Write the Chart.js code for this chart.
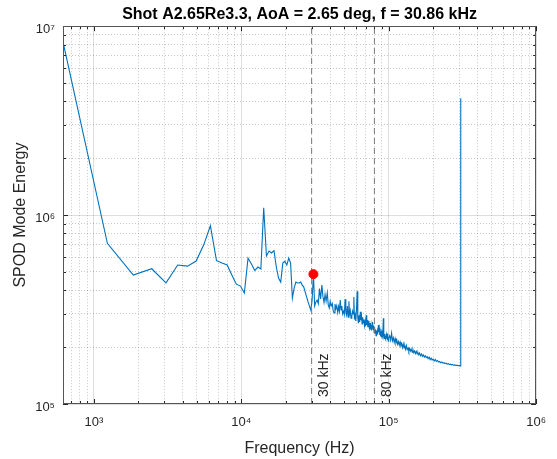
<!DOCTYPE html>
<html>
<head>
<meta charset="utf-8">
<script src="https://cdn.jsdelivr.net/npm/chart.js@4.4.0/dist/chart.umd.min.js"></script>
<style>
  html, body { margin: 0; padding: 0; background: #fff; }
  canvas { display: block; }
</style>
</head>
<body>
<canvas id="spod" width="557" height="459"></canvas>
<script>
// SPOD spectrum (Hz / energy)
const freqHz = [
  617, 1234, 1851, 2468, 3085, 3702, 4319, 4936, 5553, 6170,
  6787, 7404, 8021, 8638, 9255, 9872, 10489, 11106, 11723, 12340,
  12957, 13574, 14191, 14808, 15425, 16042, 16659, 17276, 17893, 18510,
  19127, 19744, 20361, 20978, 21595, 22212, 22829, 23446, 24063, 24680,
  25297, 25914, 26531, 27148, 27765, 28382, 28999, 29616, 30233, 30850,
  31467, 32084, 32701,
  33300, 33900, 34500, 35200, 35800, 36400, 37000, 37600, 38300, 38900,
  39500, 40100, 40700, 41400, 42000, 42600, 43200, 43800, 44400, 45100,
  45700, 46300, 46900, 47500, 48100, 48700, 49400, 50000, 50600, 51200,
  51800, 52500, 53100, 53700, 54300, 54900, 55500, 56200, 56800, 57400,
  58000, 58600, 59200, 59800, 60500, 61100, 61700, 62300, 62900, 63500,
  64200, 64800, 65400, 66000, 66600, 67300, 67900, 68500, 69100, 69700,
  70300, 71000, 71600, 72200, 72800, 73400, 74000, 74700, 75300, 75900,
  76500, 77100, 77700, 78400, 79000, 79600, 80200, 80800, 81400, 82100,
  82700, 83300, 83900, 84500, 85200, 85800, 86400, 87000, 87600, 88200,
  88900, 89500, 90100, 90700, 91300, 92000, 92600, 93200, 93800, 94400,
  95000, 95700, 96300, 96900, 97500, 98100, 98700, 99400, 100000,
  101500, 103000, 104600, 106000, 107500, 109000, 110500, 112000, 113500, 115000,
  116500, 118000, 119500, 121000, 122500, 124000, 125500, 127000, 128500, 130000,
  131800, 133500, 135300, 137000, 138800, 140600, 142400, 144200, 146000, 148000,
  150000, 152000, 154000, 156000, 158000, 160000, 162000, 164500, 167000, 169500,
  172000, 174500, 177000, 179700, 182500, 185000, 188000, 191000, 194000, 197000,
  200000, 203500, 207000, 210500, 214000, 217500, 221000, 225000, 229000, 233000,
  237000, 241000, 245000, 249000, 253500, 258000, 262500, 267000, 271500, 276000,
  281000, 286000, 291000, 296000, 301000, 305000, 307900, 308500
];
const modeEnergy = [
  8.26e6, 7.09e5, 4.81e5, 5.20e5, 4.38e5, 5.44e5, 5.37e5, 5.71e5, 6.94e5, 8.78e5,
  5.74e5, 5.57e5, 5.44e5, 4.81e5, 4.31e5, 4.21e5, 3.87e5, 5.92e5, 5.51e5, 5.09e5,
  5.31e5, 5.18e5, 1.093e6, 6.07e5, 6.45e5, 6.30e5, 6.49e5, 5.31e5, 4.64e5, 4.42e5,
  5.57e5, 5.71e5, 5.44e5, 5.92e5, 5.57e5, 3.64e5, 4.11e5, 4.42e5, 4.37e5, 4.37e5,
  4.42e5, 4.26e5, 4.16e5, 3.91e5, 3.68e5, 3.47e5, 3.30e5, 3.14e5, 3.55e5, 4.87e5,
  3.30e5, 3.47e5, 3.55e5,
  3.40e5, 4.09e5, 3.60e5, 4.26e5, 3.70e5, 3.45e5, 3.80e5, 3.50e5, 3.87e5, 3.35e5,
  3.22e5, 3.50e5, 3.30e5, 3.40e5, 3.12e5, 3.03e5, 3.38e5, 3.20e5, 3.32e5, 3.05e5,
  3.28e5, 3.10e5, 3.55e5, 3.15e5, 3.30e5, 3.00e5, 3.10e5, 2.98e5, 3.58e5, 3.05e5,
  2.95e5, 3.30e5, 2.88e5, 3.50e5, 3.00e5, 3.12e5, 2.85e5, 2.92e5, 3.10e5, 3.00e5,
  3.68e5, 2.80e5, 2.95e5, 2.75e5, 3.20e5, 3.95e5, 2.85e5, 2.68e5, 2.95e5, 2.72e5,
  3.08e5, 2.78e5, 2.92e5, 2.65e5, 2.88e5, 2.70e5, 2.80e5, 2.60e5, 2.72e5, 2.58e5,
  2.95e5, 2.62e5, 2.78e5, 2.55e5, 2.75e5, 2.60e5, 2.52e5, 2.68e5, 2.48e5, 2.62e5,
  2.45e5, 2.58e5, 2.72e5, 2.48e5, 2.60e5, 2.40e5, 2.55e5, 2.38e5, 2.48e5, 2.30e5,
  2.45e5, 2.35e5, 2.52e5, 2.38e5, 2.62e5, 2.40e5, 2.50e5, 2.32e5, 2.42e5, 2.28e5,
  2.38e5, 2.25e5, 2.36e5, 2.46e5, 2.28e5, 2.84e5, 2.30e5, 2.22e5, 2.35e5, 2.25e5,
  2.30e5, 2.20e5, 2.32e5, 2.22e5, 2.36e5, 2.18e5, 2.26e5, 2.15e5, 2.24e5,
  2.30e5, 2.18e5, 2.37e5, 2.16e5, 2.24e5, 2.12e5, 2.22e5, 2.10e5, 2.18e5, 2.07e5,
  2.14e5, 2.05e5, 2.13e5, 2.03e5, 2.08e5, 1.99e5, 2.08e5, 1.98e5, 2.03e5, 1.95e5,
  2.04e5, 1.94e5, 1.98e5, 1.90e5, 1.97e5, 1.91e5, 1.95e5, 1.88e5, 1.94e5, 1.87e5,
  1.91e5, 1.85e5, 1.90e5, 1.84e5, 1.87e5, 1.82e5, 1.86e5, 1.80e5, 1.84e5, 1.79e5,
  1.82e5, 1.77e5, 1.80e5, 1.76e5, 1.78e5, 1.74e5, 1.77e5, 1.72e5, 1.75e5, 1.71e5,
  1.73e5, 1.69e5, 1.72e5, 1.68e5, 1.70e5, 1.67e5, 1.68e5, 1.655e5, 1.67e5, 1.645e5,
  1.655e5, 1.635e5, 1.645e5, 1.625e5, 1.635e5, 1.62e5, 1.625e5, 1.61e5, 1.62e5, 1.605e5,
  1.61e5, 1.60e5, 1.605e5, 1.595e5, 1.60e5, 1.59e5, 1.59e5, 4.15e6
];

// selected frequency marker
const peakFreq = [30850];
const peakEnergy = [4.87e5];

// reference lines
const markerFreqs = [30000, 80000];
const markerLabels = ['30 kHz', '80 kHz'];

// axes
const xRange = [617, 1e6];
const yRange = [1e5, 1e7];
const xDecades = [1e3, 1e4, 1e5, 1e6];
const xDecadeLabels = ['10³', '10⁴', '10⁵', '10⁶'];
const yDecades = [1e5, 1e6, 1e7];
const yDecadeLabels = ['10⁵', '10⁶', '10⁷'];

const FONT = '"Liberation Sans", Arial, Helvetica, sans-serif';
const INK = '#262626';
Chart.defaults.font.family = FONT;
Chart.defaults.color = INK;

function logTicks(lo, hi) {
  var out = [];
  for (var e = Math.floor(Math.log10(lo)); e <= Math.ceil(Math.log10(hi)); e++) {
    for (var m = 1; m <= 9; m++) {
      var v = m * Math.pow(10, e);
      if (v >= lo * 0.999 && v <= hi * 1.001) out.push({value: v});
    }
  }
  return out;
}
function isDecade(v) {
  var l = Math.log10(v);
  return Math.abs(l - Math.round(l)) < 1e-6;
}

var lineSets = markerFreqs.map(function(f) {
  return {
    type: 'line',
    data: [{x: f, y: yRange[0]}, {x: f, y: yRange[1]}],
    borderColor: '#7a7a7a',
    borderWidth: 1,
    borderDash: [6, 4],
    pointRadius: 0,
    order: 2
  };
});

// box, inward tick marks, labels of the reference lines
const axesBox = {
  id: 'axesBox',
  afterDatasetsDraw: function(chart) {
    var ctx = chart.ctx, a = chart.chartArea;
    var xs = chart.scales.x, ys = chart.scales.y;
    ctx.save();
    ctx.strokeStyle = INK;
    ctx.lineWidth = 1;
    ctx.beginPath();
    xs.ticks.forEach(function(t) {
      var p = Math.round(xs.getPixelForValue(t.value)) + 0.5;
      var len = isDecade(t.value) ? 5 : 3;
      ctx.moveTo(p, a.bottom); ctx.lineTo(p, a.bottom - len);
      ctx.moveTo(p, a.top); ctx.lineTo(p, a.top + len);
    });
    ys.ticks.forEach(function(t) {
      var p = Math.round(ys.getPixelForValue(t.value)) + 0.5;
      var len = isDecade(t.value) ? 5 : 3;
      ctx.moveTo(a.left, p); ctx.lineTo(a.left + len, p);
      ctx.moveTo(a.right, p); ctx.lineTo(a.right - len, p);
    });
    ctx.stroke();
    ctx.strokeStyle = '#555';
    ctx.strokeRect(Math.round(a.left) + 0.5, Math.round(a.top) + 0.5,
                   Math.round(a.width) - 1, Math.round(a.height) - 1);

    ctx.fillStyle = INK;
    ctx.font = '14px ' + FONT;
    ctx.textAlign = 'left';
    ctx.textBaseline = 'middle';
    markerFreqs.forEach(function(f, i) {
      var px = xs.getPixelForValue(f);
      ctx.save();
      ctx.translate(px + 13, a.bottom - 7);
      ctx.rotate(-Math.PI / 2);
      ctx.fillText(markerLabels[i], 0, 0);
      ctx.restore();
    });
    ctx.restore();
  }
};

new Chart(document.getElementById('spod'), {
  data: {
    datasets: [
      {
        type: 'scatter',
        data: [{x: peakFreq[0], y: peakEnergy[0]}],
        backgroundColor: '#ff0000',
        borderColor: '#ff0000',
        pointRadius: 4.5,
        order: 0
      },
      lineSets[0],
      lineSets[1],
      {
        type: 'line',
        data: freqHz.map(function(f, i) { return {x: f, y: modeEnergy[i]}; }),
        borderColor: '#0072BD',
        borderWidth: 1.1,
        pointRadius: 0,
        tension: 0,
        order: 3
      }
    ]
  },
  options: {
    responsive: false,
    animation: false,
    devicePixelRatio: 1,
    layout: { padding: { left: 0, right: 16, top: 0, bottom: 0 } },
    plugins: {
      legend: { display: false },
      tooltip: { enabled: false },
      title: {
        display: true,
        fullSize: false,
        text: 'Shot A2.65Re3.3, AoA = 2.65 deg, f = 30.86 kHz',
        color: '#000',
        font: { size: 16, weight: 'bold', family: FONT },
        padding: { top: 5, bottom: 2 }
      }
    },
    scales: {
      x: {
        type: 'logarithmic',
        position: 'bottom',
        min: xRange[0],
        max: xRange[1],
        afterBuildTicks: function(s) { s.ticks = logTicks(xRange[0], xRange[1]); },
        afterFit: function(s) { s.height = 55; },
        ticks: {
          autoSkip: false,
          maxRotation: 0,
          minRotation: 0,
          padding: 11,
          font: { size: 13 },
          color: INK,
          callback: function(v) {
            var i = xDecades.indexOf(v);
            return i >= 0 ? xDecadeLabels[i] : '';
          }
        },
        grid: {
          drawTicks: false,
          color: function(c) {
            return c.tick && isDecade(c.tick.value) ? 'rgba(0,0,0,0.13)' : 'rgba(0,0,0,0.22)';
          }
        },
        border: {
          display: false,
          dash: function(c) {
            return c.tick && !isDecade(c.tick.value) ? [1, 2] : [];
          }
        },
        title: {
          display: true,
          text: 'Frequency (Hz)',
          color: INK,
          font: { size: 16 },
          padding: { top: 0, bottom: 1 }
        }
      },
      y: {
        type: 'logarithmic',
        position: 'left',
        min: yRange[0],
        max: yRange[1],
        afterBuildTicks: function(s) { s.ticks = logTicks(yRange[0], yRange[1]); },
        afterFit: function(s) { s.width = 63; },
        ticks: {
          autoSkip: false,
          padding: 8,
          labelOffset: 3,
          font: { size: 13 },
          color: INK,
          callback: function(v) {
            var i = yDecades.indexOf(v);
            return i >= 0 ? yDecadeLabels[i] : '';
          }
        },
        grid: {
          drawTicks: false,
          color: function(c) {
            return c.tick && isDecade(c.tick.value) ? 'rgba(0,0,0,0.13)' : 'rgba(0,0,0,0.22)';
          }
        },
        border: {
          display: false,
          dash: function(c) {
            return c.tick && !isDecade(c.tick.value) ? [1, 2] : [];
          }
        },
        title: {
          display: true,
          text: 'SPOD Mode Energy',
          color: INK,
          font: { size: 16 },
          padding: { top: 11, bottom: 0 }
        }
      }
    }
  },
  plugins: [axesBox]
});
</script>
</body>
</html>
